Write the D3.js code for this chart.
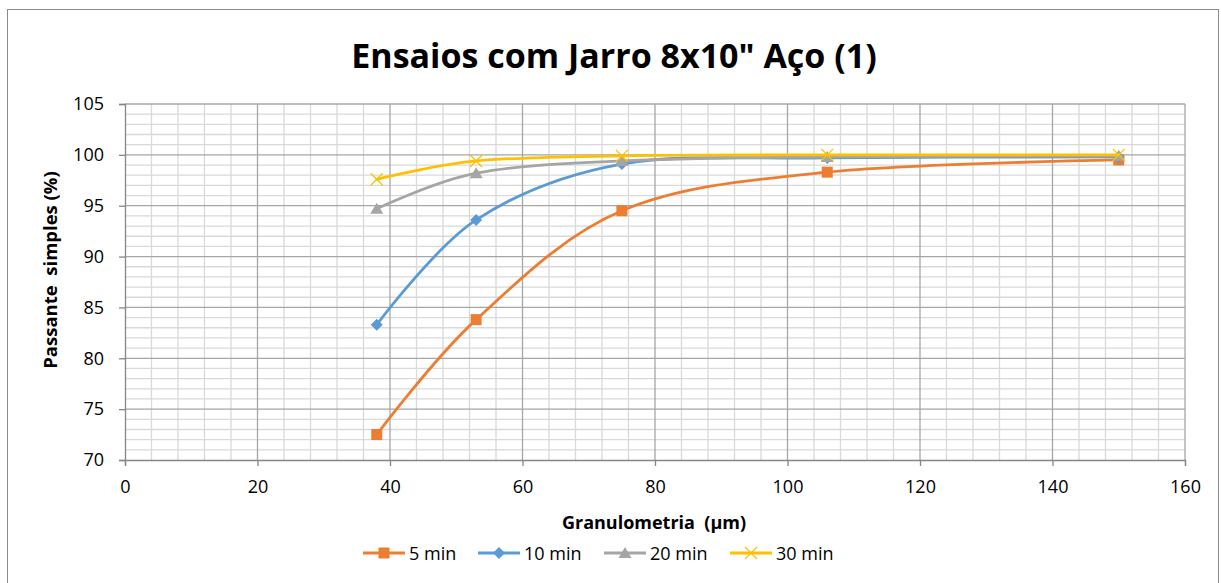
<!DOCTYPE html>
<html>
<head>
<meta charset="utf-8">
<script src="https://cdn.jsdelivr.net/npm/d3@7"></script>
<style>
  body { margin: 0; background: #fff; }
  text { font-family: "Open Sans", "Noto Sans", sans-serif; fill: #000; }
</style>
</head>
<body>
<div class="chart"></div>
<script>
var svgWidth = 1221;
var svgHeight = 583;

var margin = { top: 104, right: 36, bottom: 123, left: 125 };
var width = svgWidth - margin.left - margin.right;
var height = svgHeight - margin.top - margin.bottom;

// data
var sizes = [38, 53, 75, 106, 150];
var series = ["5 min", "10 min", "20 min", "30 min"];
var min5 = [72.5, 83.8, 94.5, 98.3, 99.5];
var min10 = [83.3, 93.6, 99.1, 99.7, 99.8];
var min20 = [94.7, 98.2, 99.4, 99.8, 99.9];
var min30 = [97.6, 99.4, 99.9, 100, 100];
var xTicks = [0, 20, 40, 60, 80, 100, 120, 140, 160];
var yTicks = [70, 75, 80, 85, 90, 95, 100, 105];

var colors = ["#ed7d31", "#5b9bd5", "#a5a5a5", "#ffc000"];
var markers = ["square", "diamond", "triangle", "x"];
var values = [min5, min10, min20, min30];

var svg = d3.select(".chart")
  .append("svg")
  .attr("width", svgWidth)
  .attr("height", svgHeight);

// outer frame
svg.append("rect")
  .attr("x", 7.5).attr("y", 9.5)
  .attr("width", 1211).attr("height", 590)
  .attr("fill", "none")
  .attr("stroke", "#8c8c8c");

var chartGroup = svg.append("g")
  .attr("transform", `translate(${margin.left}, ${margin.top})`);

var x = d3.scaleLinear().domain([0, 160]).range([0, width]);
var y = d3.scaleLinear().domain([70, 105]).range([height, 0]);

// minor gridlines
var minorX = d3.range(0, 161, 4).filter(d => d % 20 !== 0);
var minorY = d3.range(70, 106, 1).filter(d => d % 5 !== 0);

chartGroup.selectAll(".minor-x").data(minorX).enter().append("line")
  .attr("x1", d => x(d)).attr("x2", d => x(d))
  .attr("y1", 0).attr("y2", height)
  .attr("stroke", "#d9d9d9").attr("stroke-width", 1.3);

chartGroup.selectAll(".minor-y").data(minorY).enter().append("line")
  .attr("x1", 0).attr("x2", width)
  .attr("y1", d => y(d)).attr("y2", d => y(d))
  .attr("stroke", "#d9d9d9").attr("stroke-width", 1.3);

// major gridlines
chartGroup.selectAll(".major-x").data(xTicks.slice(1)).enter().append("line")
  .attr("x1", d => x(d)).attr("x2", d => x(d))
  .attr("y1", 0).attr("y2", height)
  .attr("stroke", "#a6a6a6").attr("stroke-width", 1.3);

chartGroup.selectAll(".major-y").data(yTicks.slice(1)).enter().append("line")
  .attr("x1", 0).attr("x2", width)
  .attr("y1", d => y(d)).attr("y2", d => y(d))
  .attr("stroke", "#a6a6a6").attr("stroke-width", 1.3);

// axes
var bottomAxis = d3.axisBottom(x).tickValues(xTicks).tickSize(6).tickPadding(14);
var leftAxis = d3.axisLeft(y).tickValues(yTicks).tickSize(6).tickPadding(15);

var xAxis = chartGroup.append("g")
  .attr("transform", `translate(0, ${height})`)
  .call(bottomAxis);

var yAxis = chartGroup.append("g")
  .call(leftAxis);

[xAxis, yAxis].forEach(function(a) {
  a.select(".domain").attr("stroke", "#868686").attr("stroke-width", 1.3);
  a.selectAll(".tick line").attr("stroke", "#868686").attr("stroke-width", 1.3);
  a.selectAll(".tick text")
    .style("font-family", "'Open Sans', sans-serif")
    .style("font-size", "18px")
    .attr("fill", "#000");
});

// lines
var line = d3.line()
  .x((d, i) => x(sizes[i]))
  .y(d => y(d))
  .curve(d3.curveCardinal.tension(0));

function drawMarker(g, type, color, cx, cy) {
  if (type === "square") {
    g.append("rect").attr("x", cx - 5.5).attr("y", cy - 5.5)
      .attr("width", 11).attr("height", 11).attr("fill", color);
  } else if (type === "diamond") {
    g.append("path")
      .attr("d", `M${cx},${cy - 6}L${cx + 6},${cy}L${cx},${cy + 6}L${cx - 6},${cy}Z`)
      .attr("fill", color);
  } else if (type === "triangle") {
    g.append("path")
      .attr("d", `M${cx},${cy - 6}L${cx + 6.5},${cy + 5}L${cx - 6.5},${cy + 5}Z`)
      .attr("fill", color);
  } else {
    g.append("path")
      .attr("d", `M${cx - 6},${cy - 6}L${cx + 6},${cy + 6}M${cx + 6},${cy - 6}L${cx - 6},${cy + 6}`)
      .attr("stroke", color).attr("stroke-width", 1.3).attr("fill", "none");
  }
}

values.forEach(function(vals, s) {
  var g = chartGroup.append("g");
  g.append("path")
    .attr("d", line(vals))
    .attr("fill", "none")
    .attr("stroke", colors[s])
    .attr("stroke-width", 2.8)
    .attr("stroke-linecap", "round");
  vals.forEach(function(v, i) {
    drawMarker(g, markers[s], colors[s], x(sizes[i]), y(v));
  });
});

// title
svg.append("text")
  .attr("x", 614).attr("y", 68)
  .attr("text-anchor", "middle")
  .style("font-size", "34px")
  .style("font-weight", "bold")
  .text("Ensaios com Jarro 8x10\" Aço (1)");

// axis titles (double spaces kept as in the original)
svg.append("text")
  .attr("x", 654).attr("y", 529)
  .attr("text-anchor", "middle")
  .style("font-size", "18px")
  .style("font-weight", "bold")
  .style("white-space", "pre")
  .text("Granulometria  (µm)");

svg.append("text")
  .attr("transform", "translate(57, 270) rotate(-90)")
  .attr("text-anchor", "middle")
  .style("font-size", "18.5px")
  .style("font-weight", "bold")
  .style("white-space", "pre")
  .text("Passante  simples (%)");

// legend
var legendX = [363, 478, 604, 730];
var legend = svg.append("g").attr("transform", "translate(0, 553)");
series.forEach(function(name, s) {
  var g = legend.append("g");
  g.append("line")
    .attr("x1", legendX[s]).attr("x2", legendX[s] + 42)
    .attr("y1", 0).attr("y2", 0)
    .attr("stroke", colors[s]).attr("stroke-width", 2.8);
  drawMarker(g, markers[s], colors[s], legendX[s] + 21, 0);
  g.append("text")
    .attr("x", legendX[s] + 46).attr("y", 6.5)
    .style("font-size", "18px")
    .text(name);
});
</script>
</body>
</html>
